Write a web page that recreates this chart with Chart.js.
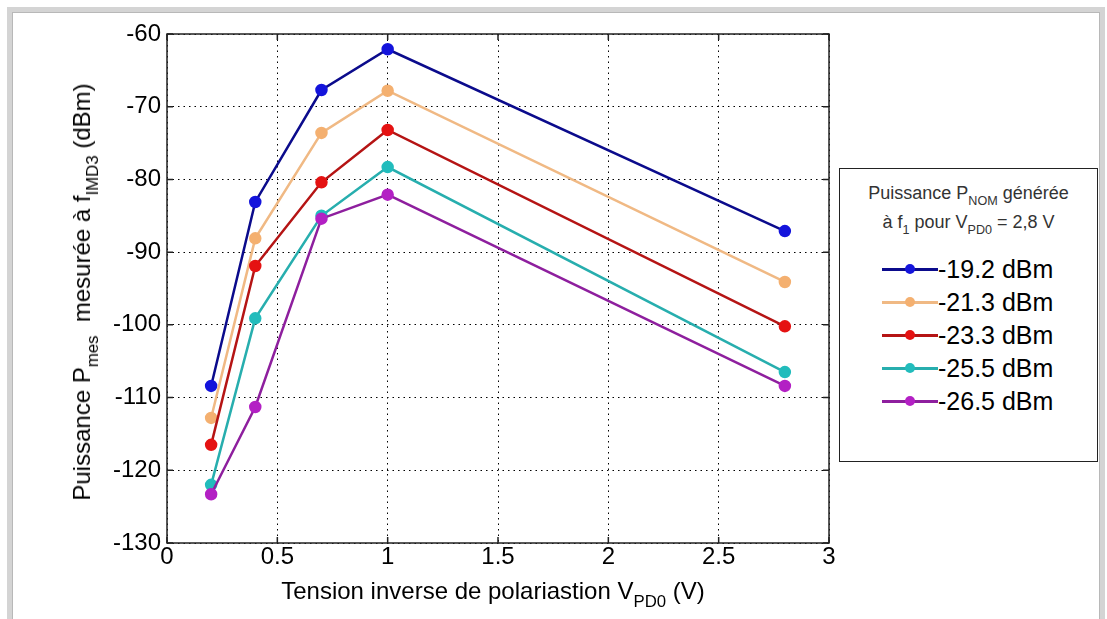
<!DOCTYPE html>
<html>
<head>
<meta charset="utf-8">
<script src="https://cdn.jsdelivr.net/npm/chart.js@4"></script>
<style>
  body { margin: 0; background: #fff; font-family: "Liberation Sans", Arial, sans-serif; }
  #wrap { position: relative; width: 1107px; height: 619px; overflow: hidden; background: #fff; }
  #frame { position: absolute; left: 7px; top: 7px; width: 1088px; height: 640px; border: 5px solid #d4d4d4; box-shadow: inset 0 0 0 1px #b8b8b8; }
  canvas { position: absolute; left: 0; top: 0; }
  .ytitle { position: absolute; left: 82px; top: 292px; transform: translate(-50%, -50%) rotate(-90deg); white-space: nowrap; font-size: 24px; color: #000; }
  .xtitle { position: absolute; left: 493px; top: 591px; transform: translate(-50%, -50%); white-space: nowrap; font-size: 24px; color: #000; }
  sub { font-size: 70%; vertical-align: -0.45em; line-height: 0; }
  #legend { position: absolute; left: 839px; top: 168px; width: 259px; height: 294px; border: 1px solid #222; background: #fff; box-sizing: border-box; }
  #legend .head { text-align: center; font-size: 18px; color: #333; line-height: 29px; margin-top: 10px; }
  #legend .item { position: absolute; left: 42px; height: 30px; display: flex; align-items: center; font-size: 25px; color: #000; }
  #legend .sample { position: relative; width: 56px; height: 30px; }
  #legend .sample .ln { position: absolute; left: 0; right: 0; top: 14px; height: 2.5px; }
  #legend .sample .dot { position: absolute; left: 23px; top: 10px; width: 10px; height: 10px; border-radius: 50%; }
</style>
</head>
<body>
<div id="wrap">
  <div id="frame"></div>
  <canvas id="chart" width="1107" height="619"></canvas>
  <div class="ytitle">Puissance P<sub>mes</sub> &nbsp;mesurée à f<sub>IMD3</sub> (dBm)</div>
  <div class="xtitle">Tension inverse de polariastion V<sub>PD0</sub> (V)</div>
  <div id="legend">
    <div class="head">Puissance P<sub>NOM</sub> générée<br>à f<sub>1</sub> pour V<sub>PD0</sub> = 2,8 V</div>
  </div>
</div>
<script>
// tension inverse V_PD0 (V)
const voltages = [0.2, 0.4, 0.7, 1.0, 2.8];

// puissance mesuree (dBm) pour chaque puissance generee
const p192 = [-108.4, -83.1, -67.7, -62.1, -87.1];
const p213 = [-112.8, -88.1, -73.6, -67.8, -94.1];
const p233 = [-116.5, -91.9, -80.4, -73.2, -100.2];
const p255 = [-122.0, -99.1, -85.0, -78.3, -106.5];
const p265 = [-123.3, -111.3, -85.4, -82.1, -108.4];

const seriesLabels = ['-19.2 dBm', '-21.3 dBm', '-23.3 dBm', '-25.5 dBm', '-26.5 dBm'];
const seriesData = [p192, p213, p233, p255, p265];
const lineColors = ['#0b0b8c', '#f0b984', '#b51414', '#27aeae', '#8e1f9e'];
const dotColors = ['#1414dc', '#f4b070', '#e51212', '#22bcbc', '#b320c4'];

const xTicks = [0, 0.5, 1, 1.5, 2, 2.5, 3];
const yTicks = [-130, -120, -110, -100, -90, -80, -70, -60];

// legende HTML
const legendBox = document.getElementById('legend');
seriesLabels.forEach((lab, i) => {
    const item = document.createElement('div');
    item.className = 'item';
    item.style.top = (85 + i * 33) + 'px';
    item.innerHTML = `<span class="sample"><span class="ln" style="background:${lineColors[i]}"></span>` +
        `<span class="dot" style="background:${dotColors[i]}"></span></span><span>${lab}</span>`;
    legendBox.appendChild(item);
});

// cadre + graduations vers l'interieur (style MATLAB)
const framePlugin = {
    id: 'frame',
    afterDatasetsDraw(chart) {
        const { ctx, chartArea: a, scales } = chart;
        ctx.save();
        ctx.strokeStyle = '#222';
        ctx.lineWidth = 1.5;
        ctx.beginPath();
        xTicks.forEach(v => {
            const x = scales.x.getPixelForValue(v);
            ctx.moveTo(x, a.bottom); ctx.lineTo(x, a.bottom - 6);
            ctx.moveTo(x, a.top); ctx.lineTo(x, a.top + 6);
        });
        yTicks.forEach(v => {
            const y = scales.y.getPixelForValue(v);
            ctx.moveTo(a.left, y); ctx.lineTo(a.left + 6, y);
            ctx.moveTo(a.right, y); ctx.lineTo(a.right - 6, y);
        });
        ctx.stroke();
        ctx.strokeRect(a.left, a.top, a.right - a.left, a.bottom - a.top);
        ctx.restore();
    }
};

new Chart(document.getElementById('chart').getContext('2d'), {
    type: 'line',
    data: {
        datasets: seriesData.map((vals, i) => ({
            label: seriesLabels[i],
            data: vals.map((y, k) => ({ x: voltages[k], y: y })),
            borderColor: lineColors[i],
            backgroundColor: dotColors[i],
            pointBackgroundColor: dotColors[i],
            pointBorderColor: dotColors[i],
            pointRadius: 5,
            borderWidth: 2.5,
            tension: 0,
            order: seriesData.length - i
        }))
    },
    options: {
        responsive: false,
        animation: false,
        layout: { padding: { top: 34, right: 278, bottom: 0, left: 0 } },
        plugins: { legend: { display: false }, tooltip: { enabled: false } },
        scales: {
            x: {
                type: 'linear',
                min: 0, max: 3,
                afterFit: s => { s.height = 76; },
                afterBuildTicks: s => { s.ticks = xTicks.map(v => ({ value: v })); },
                ticks: { color: '#000', font: { family: 'Liberation Sans', size: 24 }, padding: 0, maxRotation: 0, callback: v => String(v) },
                grid: { color: '#000', lineWidth: 1, drawTicks: false },
                border: { display: false, dash: [1.5, 4] }
            },
            y: {
                min: -130, max: -60,
                afterFit: s => { s.width = 167; },
                afterBuildTicks: s => { s.ticks = yTicks.map(v => ({ value: v })); },
                ticks: { color: '#000', font: { family: 'Liberation Sans', size: 24 }, padding: 6, callback: v => String(v) },
                grid: { color: '#000', lineWidth: 1, drawTicks: false },
                border: { display: false, dash: [1.5, 4] }
            }
        }
    },
    plugins: [framePlugin]
});
</script>
</body>
</html>
